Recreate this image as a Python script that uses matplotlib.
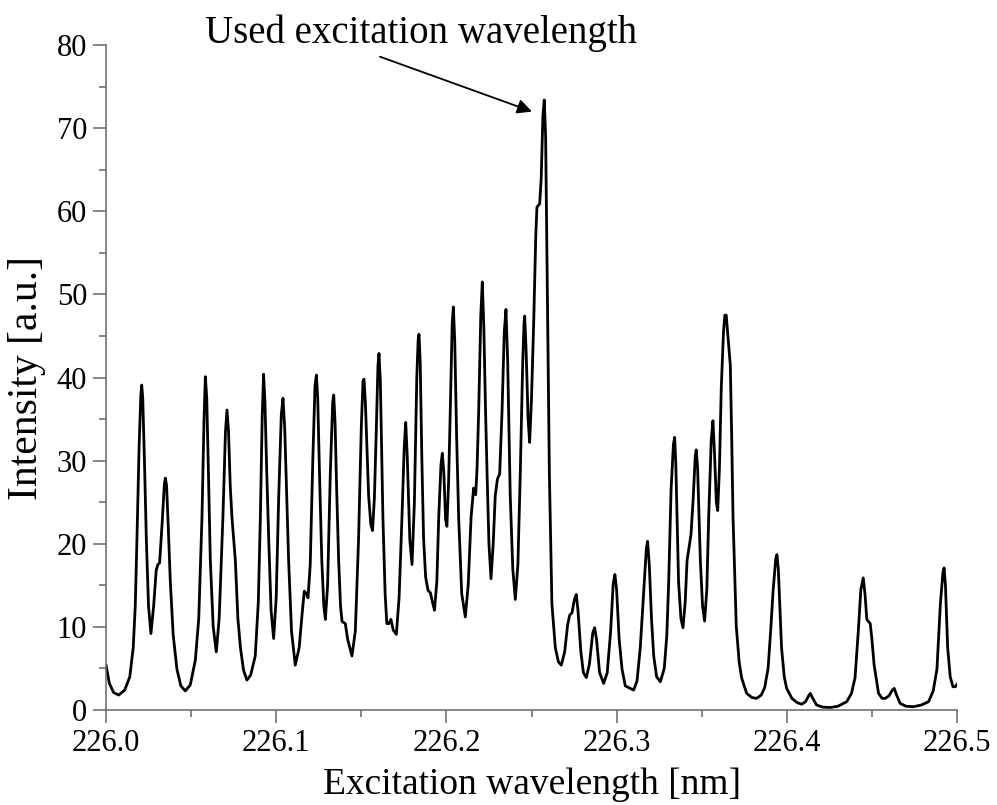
# Espectro de excitacion - intensidad vs longitud de onda
import numpy as np
import matplotlib.pyplot as plt
from matplotlib.ticker import MultipleLocator

# longitudes de onda [nm] y sus intensidades
wl = [226.0000, 226.0020, 226.0045, 226.0075, 226.0110, 226.0140, 226.0160, 226.0172, 226.0182, 226.0195,
      226.0205, 226.0210, 226.0216, 226.0226, 226.0237, 226.0250, 226.0264, 226.0280, 226.0295, 226.0305,
      226.0315, 226.0330, 226.0343, 226.0349, 226.0356, 226.0366, 226.0378, 226.0395, 226.0417, 226.0440,
      226.0466, 226.0495, 226.0525, 226.0545, 226.0564, 226.0576, 226.0584, 226.0592, 226.0602, 226.0613,
      226.0630, 226.0648, 226.0665, 226.0687, 226.0702, 226.0711, 226.0720, 226.0730, 226.0740, 226.0760,
      226.0775, 226.0790, 226.0808, 226.0828, 226.0850, 226.0877, 226.0895, 226.0907, 226.0918, 226.0926,
      226.0934, 226.0944, 226.0956, 226.0970, 226.0985, 226.1000, 226.1015, 226.1030, 226.1040, 226.1050,
      226.1060, 226.1073, 226.1090, 226.1112, 226.1135, 226.1152, 226.1165, 226.1178, 226.1187, 226.1200,
      226.1215, 226.1228, 226.1236, 226.1244, 226.1255, 226.1268, 226.1280, 226.1289, 226.1302, 226.1318,
      226.1332, 226.1338, 226.1346, 226.1356, 226.1367, 226.1378, 226.1387, 226.1406, 226.1420, 226.1445,
      226.1465, 226.1484, 226.1500, 226.1510, 226.1516, 226.1524, 226.1535, 226.1543, 226.1556, 226.1566,
      226.1577, 226.1588, 226.1598, 226.1604, 226.1612, 226.1627, 226.1640, 226.1650, 226.1662, 226.1674,
      226.1688, 226.1706, 226.1722, 226.1739, 226.1752, 226.1761, 226.1770, 226.1785, 226.1798, 226.1812,
      226.1826, 226.1834, 226.1839, 226.1846, 226.1856, 226.1866, 226.1878, 226.1892, 226.1906, 226.1918,
      226.1930, 226.1944, 226.1955, 226.1968, 226.1976, 226.1985, 226.1995, 226.2003, 226.2013, 226.2023,
      226.2034, 226.2041, 226.2049, 226.2060, 226.2072, 226.2090, 226.2111, 226.2128, 226.2145, 226.2160,
      226.2172, 226.2180, 226.2190, 226.2202, 226.2211, 226.2220, 226.2230, 226.2239, 226.2250, 226.2262,
      226.2275, 226.2287, 226.2300, 226.2313, 226.2327, 226.2340, 226.2350, 226.2360, 226.2375, 226.2390,
      226.2405, 226.2420, 226.2434, 226.2448, 226.2456, 226.2460, 226.2468, 226.2480, 226.2489, 226.2500,
      226.2513, 226.2525, 226.2532, 226.2548, 226.2557, 226.2567, 226.2575, 226.2583, 226.2591, 226.2605,
      226.2620, 226.2640, 226.2658, 226.2675, 226.2695, 226.2712, 226.2724, 226.2738, 226.2752, 226.2763,
      226.2773, 226.2790, 226.2805, 226.2822, 226.2840, 226.2860, 226.2871, 226.2882, 226.2900, 226.2924,
      226.2945, 226.2965, 226.2980, 226.2990, 226.3000, 226.3015, 226.3032, 226.3051, 226.3071, 226.3100,
      226.3120, 226.3139, 226.3160, 226.3175, 226.3182, 226.3192, 226.3205, 226.3218, 226.3235, 226.3257,
      226.3280, 226.3295, 226.3306, 226.3320, 226.3334, 226.3341, 226.3348, 226.3364, 226.3378, 226.3390,
      226.3403, 226.3414, 226.3437, 226.3450, 226.3462, 226.3468, 226.3476, 226.3492, 226.3505, 226.3517,
      226.3530, 226.3541, 226.3556, 226.3566, 226.3575, 226.3586, 226.3594, 226.3604, 226.3615, 226.3628,
      226.3636, 226.3644, 226.3652, 226.3668, 226.3676, 226.3684, 226.3703, 226.3720, 226.3734, 226.3764,
      226.3795, 226.3822, 226.3850, 226.3870, 226.3890, 226.3905, 226.3920, 226.3935, 226.3942, 226.3950,
      226.3969, 226.3985, 226.3999, 226.4030, 226.4060, 226.4087, 226.4110, 226.4128, 226.4138, 226.4150,
      226.4175, 226.4210, 226.4254, 226.4300, 226.4352, 226.4380, 226.4401, 226.4420, 226.4435, 226.4449,
      226.4460, 226.4470, 226.4490, 226.4500, 226.4513, 226.4539, 226.4560, 226.4578, 226.4600, 226.4620,
      226.4631, 226.4645, 226.4666, 226.4700, 226.4745, 226.4790, 226.4833, 226.4860, 226.4882, 226.4902,
      226.4917, 226.4924, 226.4932, 226.4945, 226.4960, 226.4976, 226.4990, 226.5000]

intensidad = [5.4, 3.2, 2.1, 1.8, 2.4, 4.0, 7.5, 12.5, 20.6, 32.0,
              38.0, 39.1, 37.5, 30.0, 20.6, 12.5, 9.2, 12.5, 16.8, 17.5,
              17.7, 22.5, 27.2, 27.9, 27.0, 22.0, 15.4, 9.0, 4.9, 2.9,
              2.3, 3.0, 6.0, 11.0, 23.2, 35.0, 40.1, 37.5, 28.5, 18.0,
              10.0, 7.0, 11.0, 23.2, 33.5, 36.1, 33.5, 27.0, 23.2, 18.0,
              11.0, 7.5, 4.8, 3.6, 4.2, 6.5, 13.0, 23.2, 35.5, 40.4,
              37.0, 29.0, 20.6, 12.0, 8.6, 13.5, 25.8, 35.5, 37.5, 34.0,
              27.0, 18.0, 9.5, 5.4, 7.5, 11.5, 14.3, 14.0, 13.5, 17.5,
              30.0, 39.0, 40.3, 37.5, 28.0, 18.0, 12.5, 10.9, 15.0, 28.5,
              37.0, 37.9, 34.5, 26.0, 18.0, 12.5, 10.65, 10.4, 8.5, 6.5,
              9.5, 20.6, 34.0, 39.5, 39.8, 37.0, 30.5, 25.8, 22.3, 21.6,
              25.5, 33.6, 41.5, 42.9, 39.5, 23.2, 14.0, 10.4, 10.4, 10.9,
              9.6, 9.1, 13.5, 23.2, 31.5, 34.6, 30.5, 20.5, 17.5, 25.0,
              40.0, 44.5, 45.2, 42.0, 30.0, 20.6, 16.0, 14.4, 14.1, 13.0,
              12.0, 15.5, 23.2, 29.5, 30.9, 28.5, 23.0, 22.1, 27.5, 36.2,
              46.5, 48.5, 44.5, 33.0, 23.2, 14.0, 11.2, 15.0, 23.2, 26.7,
              25.9, 29.0, 36.2, 47.5, 51.5, 46.0, 36.0, 28.4, 20.0, 15.8,
              20.0, 25.8, 27.8, 28.4, 36.0, 45.5, 48.2, 42.0, 25.8, 17.0,
              13.3, 17.5, 28.4, 41.5, 46.5, 47.4, 43.5, 35.0, 32.2, 37.5,
              46.7, 57.0, 60.5, 60.9, 64.0, 71.5, 73.4, 69.0, 54.5, 28.4,
              12.7, 7.5, 5.8, 5.4, 7.0, 10.2, 11.4, 11.7, 13.3, 13.9,
              12.0, 7.0, 4.5, 3.9, 5.5, 9.3, 9.9, 8.5, 4.5, 3.2,
              4.5, 9.5, 15.2, 16.3, 14.5, 8.5, 4.9, 2.9, 2.7, 2.4,
              3.5, 7.5, 14.5, 19.5, 20.3, 17.5, 11.0, 6.5, 4.0, 3.4,
              5.0, 9.0, 15.4, 26.5, 32.0, 32.8, 29.5, 15.4, 11.0, 9.9,
              13.0, 18.0, 21.1, 25.5, 30.5, 31.3, 29.0, 18.0, 12.5, 10.7,
              14.5, 23.2, 32.5, 34.8, 31.0, 25.0, 24.0, 29.0, 38.8, 45.5,
              47.5, 47.5, 45.5, 41.5, 33.0, 23.2, 10.1, 5.8, 3.9, 2.0,
              1.5, 1.4, 1.8, 2.7, 5.0, 9.5, 14.5, 18.2, 18.7, 17.0,
              7.5, 4.0, 2.6, 1.4, 0.9, 0.7, 1.0, 1.7, 2.0, 1.5,
              0.6, 0.35, 0.3, 0.45, 1.0, 2.0, 3.9, 9.5, 14.5, 15.9,
              13.8, 10.9, 10.4, 8.5, 5.4, 2.0, 1.4, 1.4, 1.7, 2.4,
              2.6, 1.8, 0.8, 0.45, 0.4, 0.6, 1.0, 2.3, 4.9, 12.7,
              16.5, 17.1, 15.0, 7.5, 4.0, 2.8, 2.8, 3.1]

# pico usado para la excitacion (punta de la flecha) y posicion del texto
pico_usado = (226.2503, 72.0)
texto_pos = (226.161, 78.6)

plt.rcParams['font.family'] = ['Liberation Serif', 'DejaVu Serif']
gris = '#666666'

fig = plt.figure(figsize=(9.97, 8.05), dpi=100)
ax = fig.add_axes([0.1063, 0.118, 0.8536, 0.826])

ax.plot(wl, intensidad, color='black', lw=2.0, solid_joinstyle='round')

ax.set_xlim(226.0, 226.5)
ax.set_ylim(0, 80)
ax.xaxis.set_major_locator(MultipleLocator(0.1))
ax.xaxis.set_minor_locator(MultipleLocator(0.05))
ax.yaxis.set_major_locator(MultipleLocator(10))
ax.yaxis.set_minor_locator(MultipleLocator(5))
ax.set_xticklabels([f'{v:.1f}' for v in ax.get_xticks()])

for lado in ['top', 'right']:
    ax.spines[lado].set_visible(False)
for lado in ['left', 'bottom']:
    ax.spines[lado].set_color(gris)
    ax.spines[lado].set_linewidth(1.1)

ax.tick_params(which='major', direction='out', length=9.5, width=1.1, color=gris,
               labelsize=22)
ax.tick_params(which='minor', direction='out', length=5, width=1.1, color=gris)
ax.tick_params(axis='x', pad=4)
ax.tick_params(axis='y', pad=4)

ax.set_xlabel('Excitation wavelength [nm]', fontsize=27, labelpad=7)
ax.set_ylabel('Intensity [a.u.]', fontsize=30, labelpad=8)

ax.annotate('', xy=pico_usado, xytext=texto_pos,
            arrowprops=dict(arrowstyle='-|>', color='black', lw=1.3,
                            mutation_scale=22, shrinkA=0, shrinkB=0))
ax.text(226.1853, 81.4, 'Used excitation wavelength', fontsize=28,
        ha='center', va='center', clip_on=False)

fig.savefig('out.png', dpi=100)
